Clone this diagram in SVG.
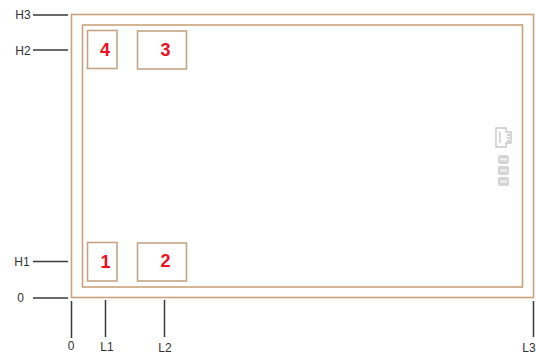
<svg xmlns="http://www.w3.org/2000/svg" width="536" height="353" viewBox="0 0 536 353">
<style>
.frame{fill:none;stroke:#c9a27a;stroke-width:1.6}
.box{fill:none;stroke:#c4a588;stroke-width:1.6}
.ln{stroke:#3a3a3a;stroke-width:1.5;fill:none}
.lb{font-family:"Liberation Sans",Arial,sans-serif;font-size:12px;fill:#333;text-anchor:middle}
.num{font-family:"Liberation Sans",Arial,sans-serif;font-size:18px;font-weight:bold;fill:#f01020;text-anchor:middle}
.ic{fill:none;stroke:#c8c8c8;stroke-width:1.4}
</style>
<rect width="536" height="353" fill="#fff"/>
<g id="outer"><rect class="frame" x="71.500" y="14.500" width="462" height="283"/></g>
<g id="inner"><rect class="frame" x="82.500" y="25" width="440" height="262"/></g>
<g id="n4"><rect class="box" x="87.500" y="30.500" width="29.500" height="38"/><text class="num" x="105" y="56">4</text></g>
<g id="n3"><rect class="box" x="137.500" y="31" width="49" height="38"/><text class="num" x="165.500" y="56">3</text></g>
<g id="n1"><rect class="box" x="87.500" y="242.500" width="29.500" height="38.500"/><text class="num" x="105.500" y="268">1</text></g>
<g id="n2"><rect class="box" x="137.500" y="243" width="49" height="38"/><text class="num" x="165.500" y="267">2</text></g>
<g id="connectors">
<path class="ln" d="M33 15H68M33 50H68M33 261.500H68M33 298H68M71.500 301V338M105.500 300V337M164.500 300V337M533.500 301V337"/>
</g>
<g id="labels">
<text class="lb" x="23" y="19">H3</text>
<text class="lb" x="23" y="55">H2</text>
<text class="lb" x="22" y="266">H1</text>
<text class="lb" x="20.500" y="302">0</text>
<text class="lb" x="71" y="350">0</text>
<text class="lb" x="107" y="351">L1</text>
<text class="lb" x="165" y="352">L2</text>
<text class="lb" x="529" y="352">L3</text>
</g>
<g id="icon">
<path class="ic" d="M496 128H506V132H511V143H506V147H496Z"/>
<path class="ic" d="M500 132V143M507 135H510M507 138H510M507 141H510"/>
<rect x="498" y="155" width="11" height="9" rx="3" fill="#d4d4d4"/>
<rect x="498" y="166" width="11" height="9" rx="2" fill="#d4d4d4"/>
<rect x="498" y="177" width="11" height="9" rx="2" fill="#d4d4d4"/>
<path d="M500 159.500H507M500 170.500H507M500 181.500H507" stroke="#f4f4f4" stroke-width="2"/>
</g>
</svg>
